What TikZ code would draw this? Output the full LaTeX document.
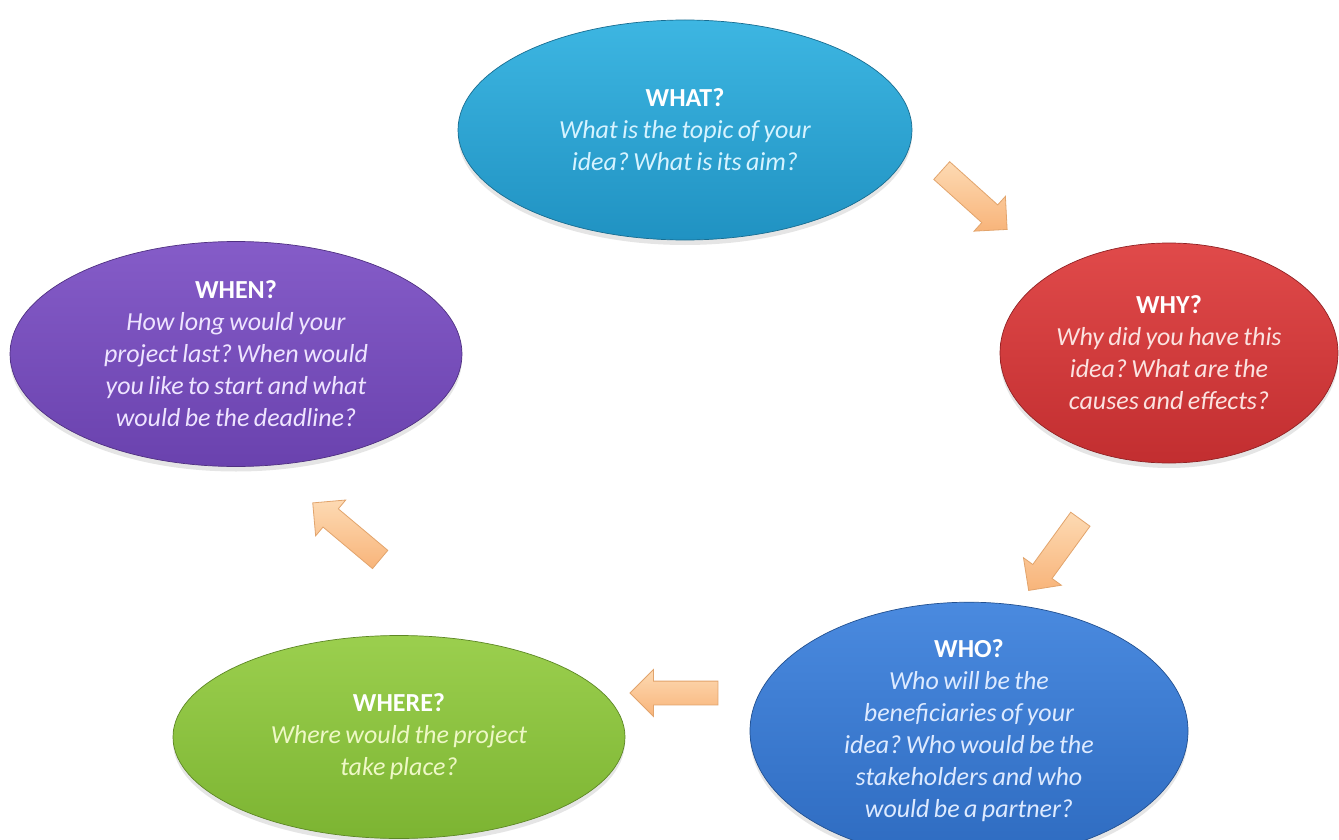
\documentclass[tikz,border=0pt]{standalone}
\usepackage{fontspec}
\setmainfont[WordSpace=0.75]{Carlito}
\usetikzlibrary{shapes.geometric,shapes.arrows,shadows}
\definecolor{whatC}{HTML}{2AA8D6}\definecolor{whatT}{HTML}{3DB6E2}\definecolor{whatB}{HTML}{2092C2}\definecolor{whatX}{HTML}{D6F3FF}
\definecolor{whyC}{HTML}{D8393B}\definecolor{whyT}{HTML}{E04A4A}\definecolor{whyB}{HTML}{C22E30}\definecolor{whyX}{HTML}{FBE2E0}
\definecolor{whoC}{HTML}{3C7DD3}\definecolor{whoT}{HTML}{4A8ADF}\definecolor{whoB}{HTML}{2E6BC0}\definecolor{whoX}{HTML}{DDEAFF}
\definecolor{whereC}{HTML}{8FC63F}\definecolor{whereT}{HTML}{9BCF4E}\definecolor{whereB}{HTML}{7CB432}\definecolor{whereX}{HTML}{EEF8C6}
\definecolor{whenC}{HTML}{7B50C0}\definecolor{whenT}{HTML}{855CC8}\definecolor{whenB}{HTML}{6A42AE}\definecolor{whenX}{HTML}{EEE4FF}
\definecolor{arrT}{HTML}{FDDAB3}\definecolor{arrB}{HTML}{F8B47A}\definecolor{arrD}{HTML}{E2A46C}
\begin{document}
\frenchspacing
\begin{tikzpicture}[x=1pt,y=-1pt,
  bubble/.style={ellipse, inner sep=0pt, align=center,
    font=\fontsize{26}{32}\selectfont\itshape\frenchspacing,
    top color=#1T, middle color=#1C, bottom color=#1B, draw=#1B!75!black, line width=0.7pt,
    text=#1X,
    drop shadow={opacity=0.2, shadow xshift=0pt, shadow yshift=-5pt}},
  blockarrow/.style={single arrow, single arrow head extend=11.5pt, inner xsep=0pt, inner ysep=11.5pt,
    minimum height=88pt, draw=arrD, line width=0.8pt, top color=arrT, bottom color=arrB}]
\useasboundingbox (0,0) rectangle (1339,840);
\fill[white] (0,0) rectangle (1339,840);

\node[bubble=what, minimum width=454pt, minimum height=220pt] (what) at (685,130)
  {{\bfseries\upshape\color{white}WHAT?}\\What is the topic of your\\idea? What is its aim?};
\node[bubble=why, minimum width=338pt, minimum height=220pt] (why) at (1169,353)
  {{\bfseries\upshape\color{white}WHY?}\\Why did you have this\\idea? What are the\\causes and effects?};
\node[bubble=who, minimum width=438pt, minimum height=218pt] (who) at (969,731)
  {{\bfseries\upshape\color{white}WHO?}\\Who will be the\\beneficiaries of your\\idea? Who would be the\\stakeholders and who\\would be a partner?};
\node[bubble=where, minimum width=452pt, minimum height=203pt] (where) at (399,737)
  {{\bfseries\upshape\color{white}WHERE?}\\Where would the project\\take place?};
\node[bubble=when, minimum width=452pt, minimum height=225pt] (when) at (236,354)
  {{\bfseries\upshape\color{white}WHEN?}\\How long would your\\project last? When would\\you like to start and what\\would be the deadline?};

\node[blockarrow, rotate=-42] (a1) at (970,196) {};
\node[blockarrow, rotate=-126] (a2) at (1058,550) {};
\node[blockarrow, rotate=180] (a3) at (680,693) {};
\node[blockarrow, rotate=140] (a4) at (351,535) {};
\end{tikzpicture}
\end{document}
